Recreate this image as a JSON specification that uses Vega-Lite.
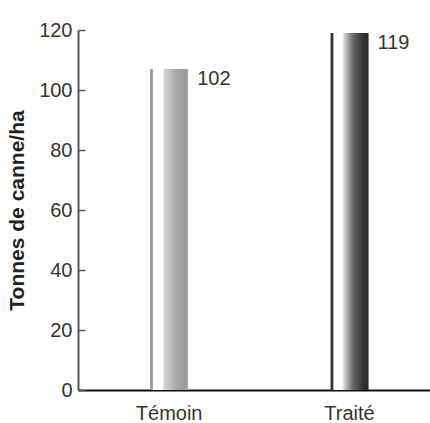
{
  "$schema": "https://vega.github.io/schema/vega-lite/v6.json",
  "autosize": "none",
  "padding": {"left": 78, "top": 30, "right": 0, "bottom": 33},
  "width": 352,
  "height": 360,
  "background": "white",
  "config": {
    "view": {"stroke": null},
    "font": "Liberation Sans"
  },
  "data": {
    "values": [
      {"traitement": "Témoin", "hauteur": 107, "etiquette": "102"},
      {"traitement": "Traité", "hauteur": 119, "etiquette": "119"}
    ]
  },
  "encoding": {
    "x": {
      "field": "traitement",
      "type": "nominal",
      "sort": ["Témoin", "Traité"],
      "scale": {"paddingInner": 0.789, "paddingOuter": 0.37, "align": 0.54},
      "axis": {
        "title": null,
        "labelAngle": 0,
        "ticks": false,
        "labelPadding": 13,
        "labelFontSize": 20,
        "labelColor": "#333333",
        "domainColor": "#111111",
        "domainWidth": 2,
        "zindex": 0
      }
    },
    "y": {
      "field": "hauteur",
      "type": "quantitative",
      "scale": {"domain": [0, 120], "nice": false},
      "axis": {
        "title": "Tonnes de canne/ha",
        "titleFontSize": 21,
        "titleFontWeight": "bold",
        "titleColor": "#222222",
        "titlePadding": 11,
        "values": [0, 20, 40, 60, 80, 100, 120],
        "grid": false,
        "tickSize": -7,
        "tickColor": "#555555",
        "tickWidth": 1.5,
        "labelPadding": 13,
        "labelFontSize": 20,
        "labelColor": "#333333",
        "domainColor": "#555555",
        "domainWidth": 2,
        "zindex": 0
      }
    }
  },
  "layer": [
    {
      "transform": [{"filter": "datum.traitement === 'Témoin'"}],
      "mark": {
        "type": "bar",
        "color": {
          "gradient": "linear",
          "x1": 0, "x2": 1, "y1": 0, "y2": 0,
          "stops": [
            {"offset": 0, "color": "#9a9a9a"},
            {"offset": 0.06, "color": "#9a9a9a"},
            {"offset": 0.09, "color": "#ffffff"},
            {"offset": 0.33, "color": "#ffffff"},
            {"offset": 0.38, "color": "#d2d2d2"},
            {"offset": 0.7, "color": "#a8a8a8"},
            {"offset": 0.94, "color": "#999999"},
            {"offset": 1, "color": "#b5b5b5"}
          ]
        }
      }
    },
    {
      "transform": [{"filter": "datum.traitement === 'Traité'"}],
      "mark": {
        "type": "bar",
        "color": {
          "gradient": "linear",
          "x1": 0, "x2": 1, "y1": 0, "y2": 0,
          "stops": [
            {"offset": 0, "color": "#333333"},
            {"offset": 0.06, "color": "#333333"},
            {"offset": 0.09, "color": "#ffffff"},
            {"offset": 0.3, "color": "#ffffff"},
            {"offset": 0.38, "color": "#c8c8c8"},
            {"offset": 0.6, "color": "#666666"},
            {"offset": 0.85, "color": "#333333"},
            {"offset": 1, "color": "#2a2a2a"}
          ]
        }
      }
    },
    {
      "mark": {
        "type": "text",
        "align": "left",
        "baseline": "middle",
        "dx": 28,
        "dy": 10,
        "fontSize": 20,
        "color": "#333333"
      },
      "encoding": {"text": {"field": "etiquette"}}
    }
  ]
}
